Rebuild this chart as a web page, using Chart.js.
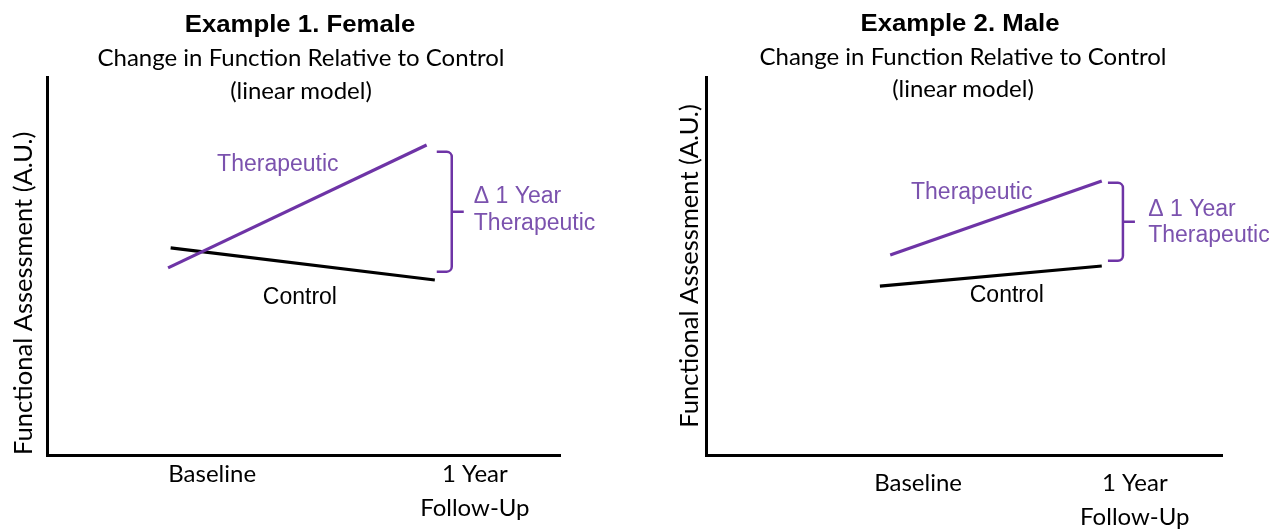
<!DOCTYPE html>
<html>
<head>
<meta charset="utf-8">
<script src="https://cdn.jsdelivr.net/npm/chart.js@4.4.1/dist/chart.umd.min.js"></script>
<style>
  html, body { margin: 0; padding: 0; background: #fff; }
  body { width: 1274px; height: 529px; position: relative; overflow: hidden; font-family: Lato, sans-serif; color: #000; }
  canvas { position: absolute; top: 0; }
  .t { position: absolute; width: 600px; text-align: center; white-space: nowrap; line-height: 1; }
  .h { font-family: "Liberation Sans", Arial, sans-serif; font-weight: bold; font-size: 23px; transform: scaleX(1.12); }
  .s { font-size: 24px; }
</style>
</head>
<body>
<canvas id="female" width="637" height="529" style="left:0"></canvas>
<canvas id="male" width="634" height="529" style="left:640px"></canvas>

<div class="t h" style="left:0px; top:13px">Example 1. Female</div>
<div class="t s" style="left:1px; top:45px">Change in Function Relative to Control</div>
<div class="t s" style="left:1px; top:78px">(linear model)</div>
<div class="t h" style="left:660px; top:12px">Example 2. Male</div>
<div class="t s" style="left:663px; top:44px">Change in Function Relative to Control</div>
<div class="t s" style="left:663px; top:76px">(linear model)</div>

<script>
// x and y are arbitrary units (0-100) along each axis
const tickLabels = ['Baseline', ['1 Year', 'Follow-Up']];

const femaleTicks = [32.2, 83.4];
const femaleTherapeutic = [{ x: 23.6, y: 49.5 }, { x: 74.0, y: 82.0 }];
const femaleControl = [{ x: 24.1, y: 54.8 }, { x: 75.6, y: 46.3 }];

const maleTicks = [41.1, 83.1];
const maleTherapeutic = [{ x: 35.7, y: 52.9 }, { x: 76.7, y: 72.5 }];
const maleControl = [{ x: 33.7, y: 44.7 }, { x: 76.7, y: 50.0 }];

const purple = '#6e34a6';
const purpleText = '#7b52ae';

// labels + the curly bracket showing the 1 year difference
const notesPlugin = {
  id: 'notes',
  afterDatasetsDraw(chart, args, opts) {
    const { ctx } = chart;
    const x = chart.scales.x, y = chart.scales.y;
    ctx.save();
    ctx.font = '23px "Liberation Sans", Arial, sans-serif';
    ctx.textBaseline = 'middle';
    opts.labels.forEach((l) => {
      ctx.fillStyle = l.color;
      ctx.textAlign = l.align || 'center';
      ctx.fillText(l.text, x.getPixelForValue(l.x), y.getPixelForValue(l.y));
    });

    const b = opts.bracket;
    const bx = x.getPixelForValue(b.x);
    const top = y.getPixelForValue(b.top);
    const bot = y.getPixelForValue(b.bottom);
    const mid = (top + bot) / 2;
    ctx.strokeStyle = purple;
    ctx.lineWidth = 2.5;
    ctx.beginPath();
    ctx.moveTo(bx - 15, top);
    ctx.arcTo(bx, top, bx, bot, 5);
    ctx.arcTo(bx, bot, bx - 15, bot, 5);
    ctx.lineTo(bx - 15, bot);
    ctx.moveTo(bx, mid);
    ctx.lineTo(bx + 12, mid);
    ctx.stroke();
    ctx.restore();
  }
};

function drawPanel(id, ticks, ther, ctrl, pad, tickPad, yTitle, notes) {
  return new Chart(document.getElementById(id), {
    type: 'line',
    data: {
      datasets: [
        { label: 'Therapeutic', data: ther, borderColor: purple, borderWidth: 3.2, pointRadius: 0 },
        { label: 'Control', data: ctrl, borderColor: '#000', borderWidth: 3.2, pointRadius: 0 }
      ]
    },
    options: {
      responsive: false,
      animation: false,
      layout: { padding: pad },
      plugins: { legend: { display: false }, tooltip: { enabled: false }, notes: notes },
      scales: {
        x: {
          type: 'linear', min: 0, max: 100,
          grid: { display: false },
          border: { display: true, color: '#000', width: 3 },
          afterBuildTicks: (s) => { s.ticks = ticks.map((v) => ({ value: v })); },
          afterFit: (s) => { s.height = 74; },
          ticks: {
            autoSkip: false, maxRotation: 0, padding: tickPad, color: '#000',
            font: { family: 'Lato', size: 24, lineHeight: 1.42 },
            callback: (v, i) => tickLabels[i]
          }
        },
        y: {
          min: 0, max: 100,
          grid: { display: false },
          border: { display: true, color: '#000', width: 3 },
          ticks: { display: false },
          afterFit: (s) => { s.width = 47; },
          title: Object.assign({
            display: true, text: 'Functional Assessment (A.U.)', color: '#000',
            font: { family: 'Lato', size: 25.5 }
          }, yTitle)
        }
      }
    },
    plugins: [notesPlugin]
  });
}

drawPanel('female', femaleTicks, femaleTherapeutic, femaleControl,
  { left: 0, top: 77, right: 77, bottom: 0 }, -6,
  { align: 'start', padding: { top: 8, bottom: 0 } }, {
    labels: [
      { text: 'Therapeutic', x: 45.0, y: 76.7, color: purpleText },
      { text: 'Control', x: 49.3, y: 41.7, color: '#000' },
      { text: '\u0394 1 Year', x: 83.2, y: 68.3, color: purpleText, align: 'left' },
      { text: 'Therapeutic', x: 83.2, y: 61.2, color: purpleText, align: 'left' }
    ],
    bracket: { x: 78.9, top: 80.2, bottom: 48.5 }
  });

drawPanel('male', maleTicks, maleTherapeutic, maleControl,
  { left: 19, top: 77, right: 52, bottom: 0 }, 3,
  { padding: { top: 15, bottom: 0 } }, {
    labels: [
      { text: 'Therapeutic', x: 51.5, y: 69.3, color: purpleText },
      { text: 'Control', x: 58.3, y: 42.1, color: '#000' },
      { text: '\u0394 1 Year', x: 85.7, y: 64.8, color: purpleText, align: 'left' },
      { text: 'Therapeutic', x: 85.7, y: 58.0, color: purpleText, align: 'left' }
    ],
    bracket: { x: 80.8, top: 72.0, bottom: 51.4 }
  });
</script>
</body>
</html>
